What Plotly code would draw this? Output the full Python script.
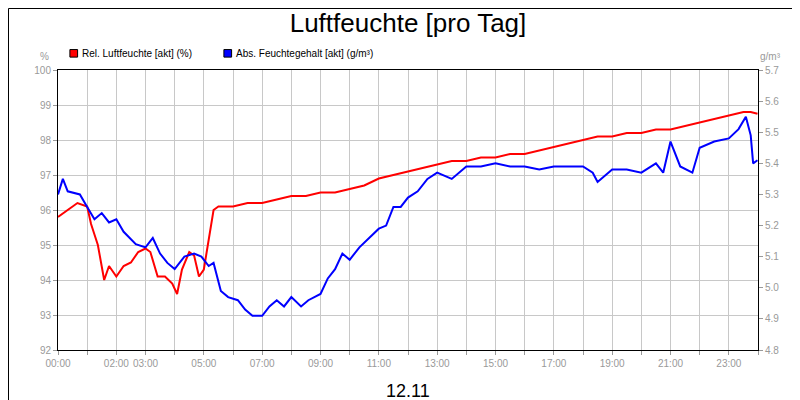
import plotly.graph_objects as go

DAY = "2000-11-12 "

# Relative humidity (%) by time of day
rel_times = ["00:00", "00:20", "00:40", "01:00", "01:08", "01:15", "01:22", "01:35", "01:45", "02:00",
             "02:15", "02:30", "02:45", "03:00", "03:10", "03:25", "03:40", "03:55", "04:05", "04:15",
             "04:30", "04:40", "04:50", "05:00", "05:10", "05:20", "05:30", "06:00", "06:30", "07:00",
             "07:30", "08:00", "08:30", "09:00", "09:30", "10:00", "10:30", "11:00", "11:30", "12:00",
             "12:30", "13:00", "13:30", "14:00", "14:30", "15:00", "15:30", "16:00", "16:30", "17:00",
             "17:30", "18:00", "18:30", "19:00", "19:30", "20:00", "20:30", "21:00", "21:30", "22:00",
             "22:30", "23:00", "23:30", "23:45", "23:59"]
rel_vals = [95.8, 96.0, 96.2, 96.1, 95.6, 95.3, 95.0, 94.0, 94.4, 94.1,
            94.4, 94.5, 94.8, 94.9, 94.8, 94.1, 94.1, 93.9, 93.6, 94.3,
            94.8, 94.7, 94.1, 94.3, 95.1, 96.0, 96.1, 96.1, 96.2, 96.2,
            96.3, 96.4, 96.4, 96.5, 96.5, 96.6, 96.7, 96.9, 97.0, 97.1,
            97.2, 97.3, 97.4, 97.4, 97.5, 97.5, 97.6, 97.6, 97.7, 97.8,
            97.9, 98.0, 98.1, 98.1, 98.2, 98.2, 98.3, 98.3, 98.4, 98.5,
            98.6, 98.7, 98.8, 98.8, 98.75]

# Absolute moisture content (g/m3)
abs_times = ["00:00", "00:10", "00:20", "00:45", "01:00", "01:15", "01:30", "01:45", "02:00", "02:15",
             "02:40", "03:00", "03:15", "03:30", "03:45", "04:00", "04:20", "04:40", "04:55", "05:10",
             "05:20", "05:35", "05:50", "06:10", "06:25", "06:40", "07:00", "07:15", "07:30", "07:45",
             "08:00", "08:20", "08:35", "09:00", "09:15", "09:30", "09:45", "10:00", "10:20", "10:40",
             "11:00", "11:15", "11:30", "11:45", "12:00", "12:20", "12:40", "13:00", "13:30", "14:00",
             "14:30", "15:00", "15:30", "16:00", "16:30", "17:00", "17:30", "18:00", "18:20", "18:30",
             "19:00", "19:30", "20:00", "20:30", "20:45", "21:00", "21:20", "21:45", "22:00", "22:30",
             "23:00", "23:20", "23:35", "23:45", "23:50", "23:59"]
abs_vals = [5.30, 5.35, 5.31, 5.30, 5.26, 5.22, 5.24, 5.21, 5.22, 5.18,
            5.14, 5.13, 5.16, 5.11, 5.08, 5.06, 5.10, 5.11, 5.10, 5.07,
            5.08, 4.99, 4.97, 4.96, 4.93, 4.91, 4.91, 4.94, 4.96, 4.94,
            4.97, 4.94, 4.96, 4.98, 5.03, 5.06, 5.11, 5.09, 5.13, 5.16,
            5.19, 5.20, 5.26, 5.26, 5.29, 5.31, 5.35, 5.37, 5.35, 5.39,
            5.39, 5.40, 5.39, 5.39, 5.38, 5.39, 5.39, 5.39, 5.37, 5.34,
            5.38, 5.38, 5.37, 5.40, 5.37, 5.47, 5.39, 5.37, 5.45, 5.47,
            5.48, 5.51, 5.55, 5.49, 5.40, 5.41]

hours = list(range(25))
hour_labels = ["00:00", "", "02:00", "03:00", "", "05:00", "", "07:00", "", "09:00", "", "11:00", "",
               "13:00", "", "15:00", "", "17:00", "", "19:00", "", "21:00", "", "23:00", ""]

legend_names = ["Rel. Luftfeuchte [akt] (%)", "Abs. Feuchtegehalt [akt] (g/m³)"]
legend_colors = ["#ff0000", "#0000ff"]
legend_x = [0.017, 0.237]

fig = go.Figure()
fig.add_trace(go.Scatter(x=[DAY + t for t in rel_times], y=rel_vals, mode="lines",
                         line=dict(color="#ff0000", width=2), showlegend=False))
fig.add_trace(go.Scatter(x=[DAY + t for t in abs_times], y=abs_vals, mode="lines", yaxis="y2",
                         line=dict(color="#0000ff", width=2), showlegend=False))

annotations = [
    dict(text="%", xref="paper", yref="paper", x=-0.01, y=1.02, xanchor="right", yanchor="bottom",
         showarrow=False, font=dict(size=10, color="#999999")),
    dict(text="g/m³", xref="paper", yref="paper", x=1.0, y=1.02, xanchor="left", yanchor="bottom",
         showarrow=False, font=dict(size=10, color="#999999")),
    dict(text="12.11", xref="paper", yref="paper", x=0.5, y=-0.105, xanchor="center", yanchor="top",
         showarrow=False, font=dict(size=18, color="black")),
]
shapes = [dict(type="rect", xref="paper", yref="paper", x0=-0.0707, x1=1.0707, y0=-0.205, y1=1.2196,
               line=dict(color="black", width=1))]
for name, col, lx in zip(legend_names, legend_colors, legend_x):
    shapes.append(dict(type="rect", xref="paper", yref="paper", x0=lx, x1=lx + 0.011,
                       y0=1.046, y1=1.073, fillcolor=col, line=dict(color="black", width=1)))
    annotations.append(dict(text=name, xref="paper", yref="paper", x=lx + 0.014, y=1.06,
                            xanchor="left", yanchor="middle", showarrow=False,
                            font=dict(size=10, color="black")))

fig.update_layout(
    width=800, height=400,
    margin=dict(l=50, r=50, t=62, b=58, autoexpand=False),
    paper_bgcolor="white", plot_bgcolor="white", showlegend=False,
    font=dict(family="Arial, Liberation Sans, sans-serif", size=10, color="#999999"),
    title=dict(text="Luftfeuchte [pro Tag]", x=0.5, xanchor="center", y=0.985, yanchor="top",
               font=dict(size=26, color="black")),
    xaxis=dict(range=[DAY + "00:00", "2000-11-13 00:00"],
               tickmode="array", tickvals=[f"{DAY}{h:02d}:00" if h < 24 else "2000-11-13 00:00" for h in hours],
               ticktext=hour_labels, showgrid=True, gridcolor="#c8c8c8", linecolor="black",
               ticks="outside", ticklen=4, tickcolor="#999999", mirror=True, zeroline=False),
    yaxis=dict(range=[92, 100], dtick=1, showgrid=True, gridcolor="#c8c8c8", linecolor="black",
               ticks="outside", ticklen=4, tickcolor="#999999", mirror=True, zeroline=False),
    yaxis2=dict(range=[4.8, 5.7], dtick=0.1, tickformat=".1f", overlaying="y", side="right",
                showgrid=False, ticks="outside", ticklen=4, tickcolor="#999999", zeroline=False),
    annotations=annotations,
    shapes=shapes,
)

fig.write_html("out.html")
